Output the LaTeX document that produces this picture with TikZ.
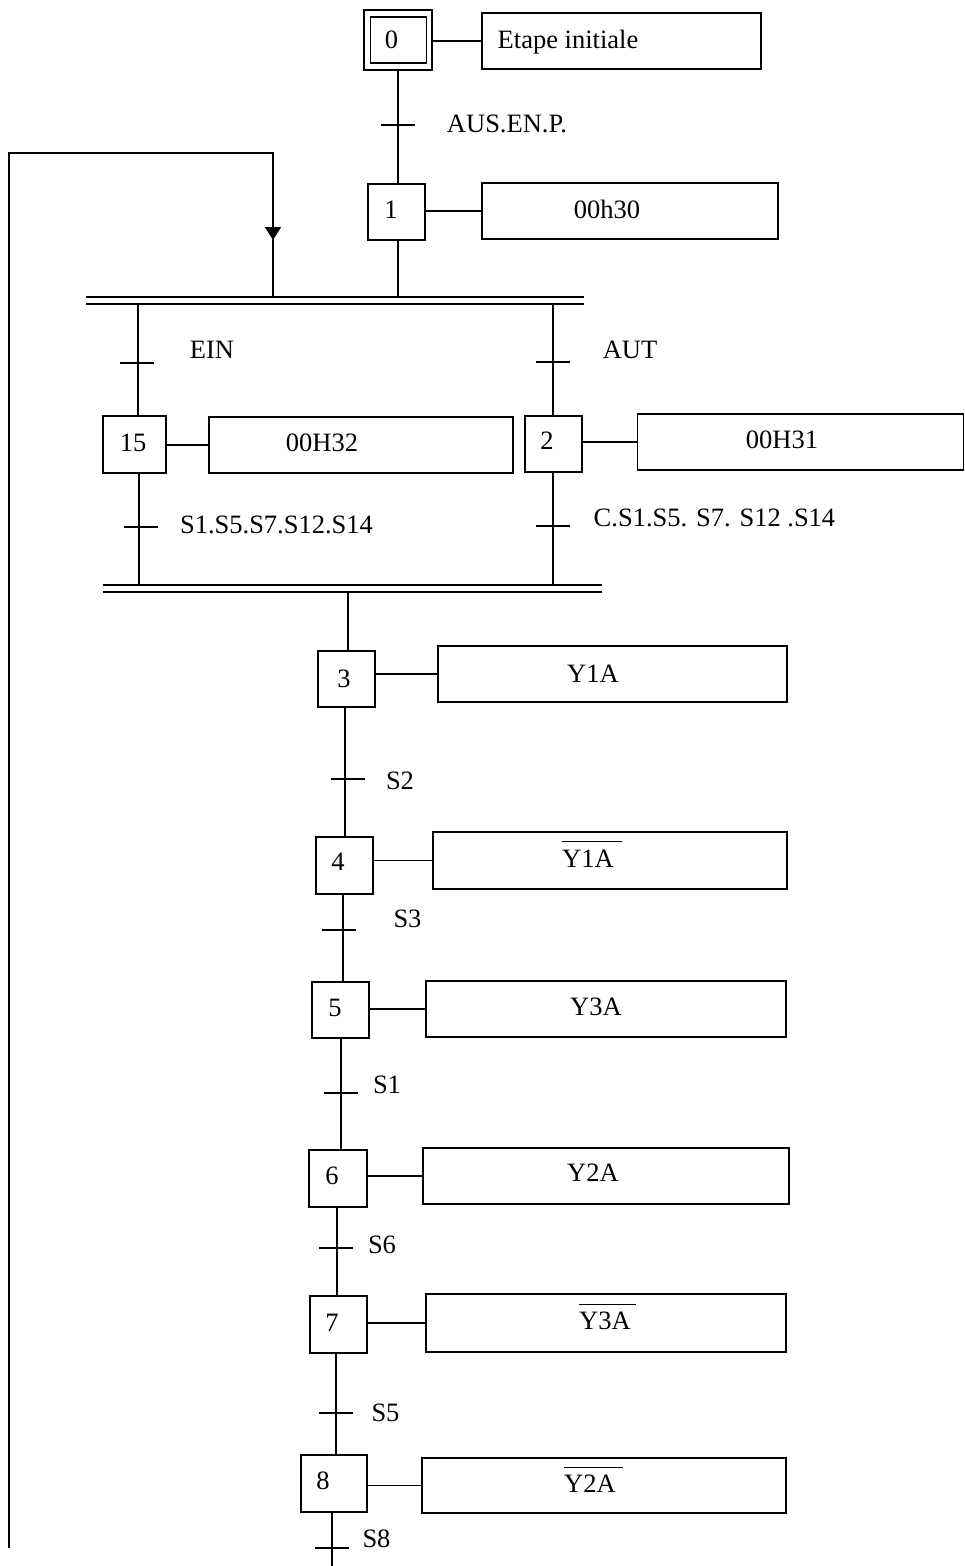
\documentclass[tikz,border=0pt]{standalone}
\usepackage{fontspec}
\setmainfont{Liberation Serif}
\usetikzlibrary{arrows.meta}
\newcommand\gtrans[2]{\draw[ln] (#1-17,#2) -- (#1+17,#2);}
\begin{document}
\begin{tikzpicture}[x=1pt,y=-1pt,
  every node/.style={font=\fontsize{26.5}{30}\selectfont},
  ln/.style={line width=1.6pt},
  barln/.style={line width=1.4pt},
  stepbox/.style={draw, line width=1.6pt, inner sep=0pt},
  actbox/.style={draw, line width=1.6pt, inner sep=0pt},
  lbl/.style={anchor=base, inner sep=0pt},
  ovl/.style={line width=1.3pt}]
\useasboundingbox (0,0) rectangle (965,1566);

% steps
\node[stepbox, minimum width=68pt, minimum height=60pt] (s0) at (398,40) {};
\node[stepbox, minimum width=56pt, minimum height=46pt] (s0i) at (398.5,40) {};
\node[stepbox, minimum width=57pt, minimum height=56pt] (s1) at (396.5,212) {};
\node[stepbox, minimum width=63pt, minimum height=57pt] (s15) at (134.5,444.5) {};
\node[stepbox, minimum width=57pt, minimum height=56pt] (s2) at (553.5,444) {};
\node[stepbox, minimum width=57pt, minimum height=56pt] (s3) at (346.5,679) {};
\node[stepbox, minimum width=57pt, minimum height=57pt] (s4) at (344.5,865.5) {};
\node[stepbox, minimum width=57pt, minimum height=56pt] (s5) at (340.5,1010) {};
\node[stepbox, minimum width=58pt, minimum height=57pt] (s6) at (338,1178.5) {};
\node[stepbox, minimum width=57pt, minimum height=57pt] (s7) at (338.5,1324.5) {};
\node[stepbox, minimum width=66pt, minimum height=57pt] (s8) at (334,1483.5) {};

% actions
\node[actbox, minimum width=279pt, minimum height=56pt] (a0) at (621.5,41) {};
\node[actbox, minimum width=296pt, minimum height=56pt] (a1) at (630,211) {};
\node[actbox, minimum width=304pt, minimum height=56pt] (a15) at (361,445) {};
\node[actbox, minimum width=326pt, minimum height=56pt] (a2) at (800.5,442) {};
\node[actbox, minimum width=349pt, minimum height=56pt] (a3) at (612.5,674) {};
\node[actbox, minimum width=354pt, minimum height=57pt] (a4) at (610,860.5) {};
\node[actbox, minimum width=360pt, minimum height=56pt] (a5) at (606,1009) {};
\node[actbox, minimum width=366pt, minimum height=56pt] (a6) at (606,1176) {};
\node[actbox, minimum width=360pt, minimum height=58pt] (a7) at (606,1323) {};
\node[actbox, minimum width=364pt, minimum height=55pt] (a8) at (604,1485.5) {};

% step -> action links
\foreach \n in {0,1,15,2,3,4,5,6,7,8}{
  \draw[ln] (a\n.west -| s\n.east) -- (a\n.west);
}

% texts in steps
\node[lbl] (n0) at (391.5,48) {0};
\node[lbl] (n1) at (391,218) {1};
\node[lbl] (n15) at (133,451) {15};
\node[lbl] (n2) at (547,449) {2};
\node[lbl] (n3) at (344,687) {3};
\node[lbl] (n4) at (338,870) {4};
\node[lbl] (n5) at (335,1016) {5};
\node[lbl] (n6) at (332,1184) {6};
\node[lbl] (n7) at (332,1331) {7};
\node[lbl] (n8) at (323,1489) {8};

% texts in actions
\node[lbl] (x0) at (568,48) {Etape initiale};
\node[lbl] (x1) at (607,218) {00h30};
\node[lbl] (x15) at (322,451) {00H32};
\node[lbl] (x2) at (782,448) {00H31};
\node[lbl] (x3) at (593,682) {Y1A};
\node[lbl] (x4) at (588,867) {Y1A};
\node[lbl] (x5) at (596,1015) {Y3A};
\node[lbl] (x6) at (593,1181) {Y2A};
\node[lbl] (x7) at (605,1329) {Y3A};
\node[lbl] (x8) at (590,1492) {Y2A};
\draw[ovl] ([yshift=8pt]x4.north west) -- ([xshift=8pt,yshift=8pt]x4.north east);
\draw[ovl] ([yshift=7pt]x7.north west) -- ([xshift=5pt,yshift=7pt]x7.north east);
\draw[ovl] ([yshift=7pt]x8.north west) -- ([xshift=7pt,yshift=7pt]x8.north east);

% transition labels
\node[lbl] (c01) at (507,132) {AUS.EN.P.};
\node[lbl] (cein) at (212,358) {EIN};
\node[lbl] (caut) at (630,358) {AUT};
\node[lbl] (c15) at (276.5,533) {S1.S5.S7.S12.S14};
\node[lbl] (c2) at (714.5,526) {C.S1.S5. S7. S12 .S14};
\node[lbl] (cs2) at (400,789) {S2};
\node[lbl] (cs3) at (407.5,927) {S3};
\node[lbl] (cs1) at (387,1093) {S1};
\node[lbl] (cs6) at (382,1253) {S6};
\node[lbl] (cs5) at (385.5,1421) {S5};
\node[lbl] (cs8) at (376.5,1547) {S8};

% convergence / divergence bars
\coordinate (b1l) at (86,297);  \coordinate (b1r) at (584,297);
\coordinate (b2l) at (86,304);  \coordinate (b2r) at (584,304);
\coordinate (c1l) at (103,585); \coordinate (c1r) at (602,585);
\coordinate (c2l) at (103,592); \coordinate (c2r) at (602,592);
\draw[barln] (b1l) -- (b1r);
\draw[barln] (b2l) -- (b2r);
\draw[barln] (c1l) -- (c1r);
\draw[barln] (c2l) -- (c2r);

% links
\draw[ln] (s0.south) -- (s0.south |- s1.north);
\draw[ln] (398,0 |- s1.south) -- (398,0 |- b1l);
\draw[ln] (138,0 |- b2l) -- (138,0 |- s15.north);
\draw[ln] (553,0 |- b2l) -- (553,0 |- s2.north);
\draw[ln] (139,0 |- s15.south) -- (139,0 |- c1l);
\draw[ln] (553,0 |- s2.south) -- (553,0 |- c1l);
\draw[ln] (348,0 |- c2l) -- (348,0 |- s3.north);
\draw[ln] (345,0 |- s3.south) -- (345,0 |- s4.north);
\draw[ln] (343,0 |- s4.south) -- (343,0 |- s5.north);
\draw[ln] (341,0 |- s5.south) -- (341,0 |- s6.north);
\draw[ln] (337,0 |- s6.south) -- (337,0 |- s7.north);
\draw[ln] (336,0 |- s7.south) -- (336,0 |- s8.north);
\coordinate (endp) at (332,1566);
\draw[ln] (332,0 |- s8.south) -- (endp);

% loop back
\coordinate (lb) at (9,1548);
\coordinate (lt) at (9,153);
\coordinate (ar) at (273,153);
\coordinate (atip) at (273,240);
\draw[ln] (lb) -- (lt) -- (ar) -- (273,0 |- b1l);
\draw[ln, -{Triangle[length=13pt,width=16pt]}] (ar) -- (atip);

% transitions
\gtrans{398}{125}
\gtrans{137}{363}
\gtrans{553}{362}
\gtrans{141}{527}
\gtrans{553}{526}
\gtrans{348}{779}
\gtrans{339}{930}
\gtrans{341}{1093}
\gtrans{336}{1248}
\gtrans{336}{1413}
\gtrans{332}{1548}
\end{tikzpicture}
\end{document}
